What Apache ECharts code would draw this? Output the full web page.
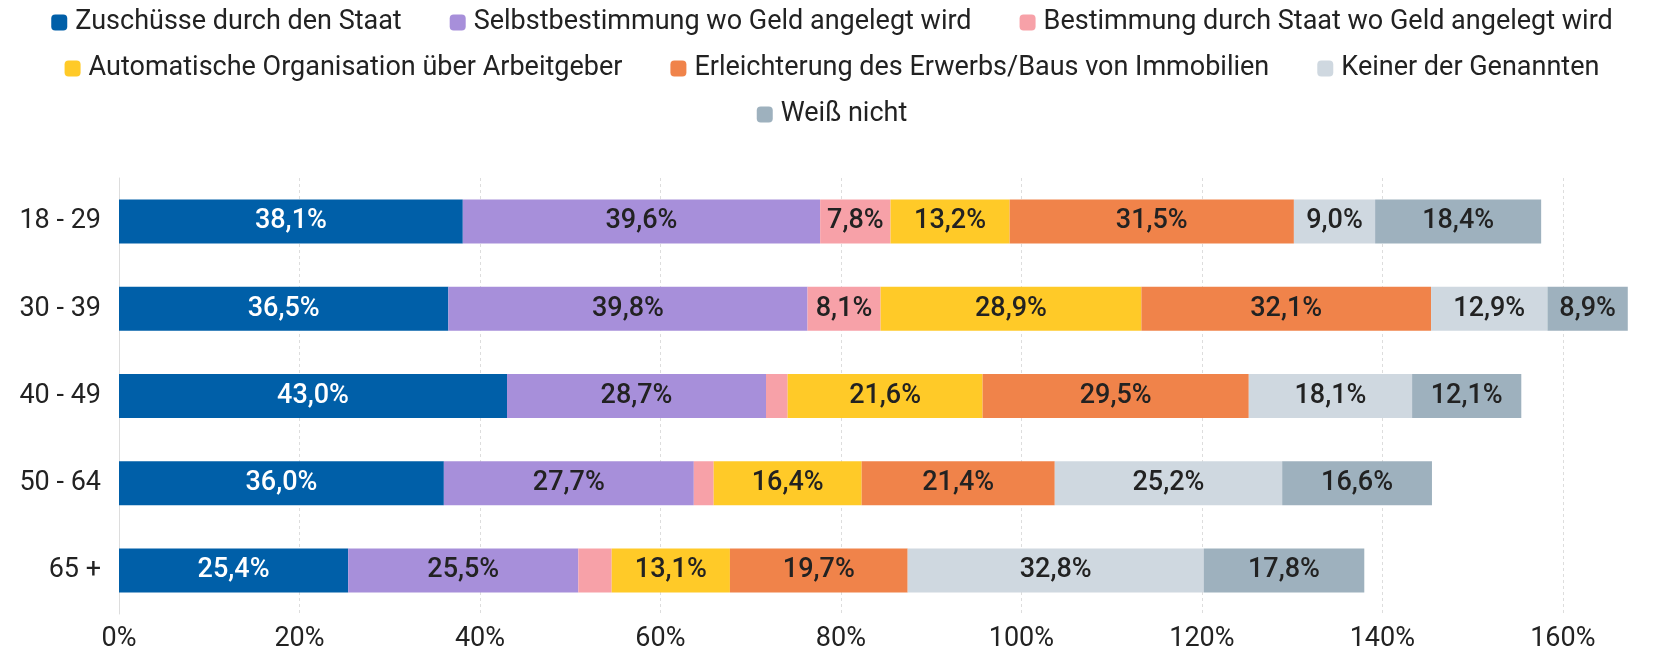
<!DOCTYPE html>
<html>
<head>
<meta charset="utf-8">
<script src="https://cdn.jsdelivr.net/npm/echarts@6/dist/echarts.min.js"></script>
<style>
  html, body { margin: 0; padding: 0; background: #fff; }
  #chart { width: 1664px; height: 653px; }
</style>
</head>
<body>
<div id="chart"></div>
<script>
const categories = ['18 - 29', '30 - 39', '40 - 49', '50 - 64', '65 +'];
const seriesNames = [
  'Zuschüsse durch den Staat',
  'Selbstbestimmung wo Geld angelegt wird',
  'Bestimmung durch Staat wo Geld angelegt wird',
  'Automatische Organisation über Arbeitgeber',
  'Erleichterung des Erwerbs/Baus von Immobilien',
  'Keiner der Genannten',
  'Weiß nicht'
];
const zuschuesse = [38.1, 36.5, 43.0, 36.0, 25.4];
const selbst = [39.6, 39.8, 28.7, 27.7, 25.5];
const staatBestimmung = [7.8, 8.1, 2.4, 2.2, 3.7];
const arbeitgeber = [13.2, 28.9, 21.6, 16.4, 13.1];
const immobilien = [31.5, 32.1, 29.5, 21.4, 19.7];
const keiner = [9.0, 12.9, 18.1, 25.2, 32.8];
const weissNicht = [18.4, 8.9, 12.1, 16.6, 17.8];
const xTicks = [0, 20, 40, 60, 80, 100, 120, 140, 160];

const values = [zuschuesse, selbst, staatBestimmung, arbeitgeber, immobilien, keiner, weissNicht];
const colors = ['#005FA8', '#A78FDA', '#F7A1A8', '#FFCA28', '#F0834A', '#CFD8E0', '#9EB1BE'];
const labelColors = ['#fff', '#222', '#222', '#222', '#222', '#222', '#222'];

var chart = echarts.init(document.getElementById('chart'));

const legendBase = {
  left: 'center',
  icon: 'roundRect',
  itemWidth: 16,
  itemHeight: 16,
  itemGap: 48,
  textStyle: { fontFamily: 'Roboto', fontSize: 27, color: '#222', padding: [0, 0, 0, 3] },
  selectedMode: false
};

const option = {
  animation: false,
  color: colors,
  textStyle: { fontFamily: 'Roboto' },
  legend: [
    Object.assign({}, legendBase, { top: 4, data: seriesNames.slice(0, 3) }),
    Object.assign({}, legendBase, { top: 50, data: seriesNames.slice(3, 6) }),
    Object.assign({}, legendBase, { top: 96, data: seriesNames.slice(6) })
  ],
  // 160% sits at x=1563, the 30-39 bar runs past it
  grid: { left: 119, right: 29, top: 178, bottom: 37, containLabel: false },
  xAxis: {
    type: 'value',
    min: 0,
    max: 168,
    interval: 20,
    axisLine: { show: false },
    axisTick: { show: false },
    axisLabel: {
      fontFamily: 'Roboto',
      fontSize: 27,
      color: '#222',
      margin: 12,
      showMaxLabel: false,
      formatter: (v) => (xTicks.includes(v) ? v + '%' : '')
    },
    splitLine: { show: true, showMaxLine: false, lineStyle: { color: '#ddd', type: [3, 3], width: 1 } }
  },
  yAxis: {
    type: 'category',
    data: categories,
    inverse: true,
    axisLine: { show: true, lineStyle: { color: '#ddd', width: 1 } },
    axisTick: { show: false },
    axisLabel: { fontFamily: 'Roboto', fontSize: 27, color: '#222', margin: 18 }
  },
  series: seriesNames.map((name, i) => ({
    name: name,
    type: 'bar',
    stack: 'total',
    barWidth: 44,
    itemStyle: { color: colors[i] },
    label: {
      show: true,
      position: 'inside',
      fontFamily: 'Roboto',
      fontSize: 27,
      fontWeight: 500,
      color: labelColors[i],
      formatter: (p) => (p.value < 5 ? '' : p.value.toFixed(1).replace('.', ',') + '%')
    },
    data: values[i]
  }))
};
chart.setOption(option);
</script>
</body>
</html>
